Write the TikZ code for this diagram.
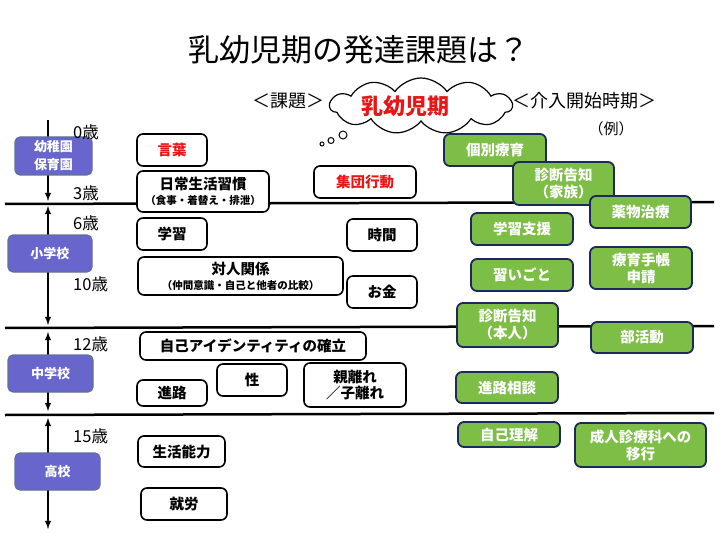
\documentclass[tikz,border=0pt]{standalone}
\usepackage{fontspec}
\setmainfont{Noto Sans CJK JP}
\usetikzlibrary{shapes.symbols}
\definecolor{schoolblue}{RGB}{104,102,204}
\definecolor{schoolline}{RGB}{96,112,150}
\definecolor{caregreen}{RGB}{125,190,70}
\definecolor{careline}{RGB}{30,40,92}
\definecolor{taskred}{RGB}{232,22,22}
\newcommand{\subline}{\fontsize{10.5}{12}\selectfont}
\begin{document}
\begin{tikzpicture}[x=1pt,y=-1pt,
	task/.style={draw=black,line width=1.6pt,rounded corners=6pt,fill=white,align=center,font=\fontsize{14.5}{16}\selectfont\bfseries,inner sep=0pt},
	redtask/.style={task,text=taskred},
	care/.style={draw=careline,line width=1.8pt,rounded corners=6pt,fill=caregreen,text=white,align=center,font=\fontsize{14.5}{17}\selectfont\bfseries,inner sep=0pt},
	school/.style={draw=schoolline,line width=1.2pt,rounded corners=5pt,fill=schoolblue,text=white,align=center,font=\fontsize{13}{18}\selectfont\bfseries,inner sep=0pt},
	age/.style={anchor=west,font=\fontsize{16.5}{16}\selectfont,inner sep=0pt}]
		\useasboundingbox (0,0) rectangle (720,540);
		% title and headings
		\node (title) at (359,50) {\fontsize{31}{31}\selectfont 乳幼児期の発達課題は？};
		\node (kadai) at (288,101) {\fontsize{18}{18}\selectfont ＜課題＞};
		\node (kainyu) at (584,101) {\fontsize{18}{18}\selectfont ＜介入開始時期＞};
		\node (rei) at (611,129) {\fontsize{15}{15}\selectfont （例）};
		\node[cloud,cloud puffs=11,cloud puff arc=110,aspect=3.3,draw,line width=1.2pt,fill=white,minimum width=182pt,minimum height=56pt] (bubble) at (421,106) {};
		\node[text=taskred,font=\fontsize{22}{22}\selectfont\bfseries] (nyuyoji) at (405,106) {乳幼児期};
		\draw[line width=1pt] (322,144) circle (2pt) (331,140.5) circle (3pt) (343,135) circle (4pt);
		% time axis
		\draw[line width=2.5pt] (5,204) -- (714,202);
		\draw[line width=2.5pt] (5,328) -- (714,326);
		\draw[line width=2.5pt] (5,415) -- (714,413);
		\coordinate (a0) at (48,120);
		\coordinate (a1) at (48,201);
		\coordinate (a2) at (48,206);
		\coordinate (a3) at (48,325);
		\coordinate (a4) at (48,332);
		\coordinate (a5) at (48,411);
		\coordinate (a6) at (48,418);
		\coordinate (a7) at (48,529);
		\draw[-latex,line width=1.8pt] (a0) -- (a1);
		\draw[latex-latex,line width=1.8pt] (a2) -- (a3);
		\draw[latex-latex,line width=1.8pt] (a4) -- (a5);
		\draw[latex-latex,line width=1.8pt] (a6) -- (a7);
		\node[school,minimum width=77pt,minimum height=38pt] (yochien) at (53.5,156) {幼稚園\\保育園};
		\node[school,minimum width=84pt,minimum height=37pt] (shogakko) at (50,253.5) {小学校};
		\node[school,minimum width=85pt,minimum height=37pt] (chugakko) at (50.5,373.5) {中学校};
		\node[school,minimum width=85pt,minimum height=37pt] (koko) at (57.5,471.5) {高校};
		\node[age] (age0) at (73,132) {0歳};
		\node[age] (age3) at (73,193) {3歳};
		\node[age] (age6) at (73,223) {6歳};
		\node[age] (age10) at (73,284) {10歳};
		\node[age] (age12) at (73,344) {12歳};
		\node[age] (age15) at (73,436) {15歳};
		% tasks
		\node[redtask,minimum width=70pt,minimum height=32pt] (kotoba) at (172,150) {言葉};
		\node[task,minimum width=132pt,minimum height=41pt] (seikatsu) at (203,191.5) {日常生活習慣\\[-1pt]{\subline（食事・着替え・排泄）}};
		\node[redtask,minimum width=102pt,minimum height=32pt] (shudan) at (365,182) {集団行動};
		\node[task,minimum width=70pt,minimum height=32pt] (gakushu) at (172,234) {学習};
		\node[task,minimum width=70pt,minimum height=32pt] (jikan) at (382,235) {時間};
		\node[task,minimum width=205pt,minimum height=38pt] (taijin) at (240.5,276) {対人関係\\[-1pt]{\subline（仲間意識・自己と他者の比較）}};
		\node[task,minimum width=70pt,minimum height=32pt] (okane) at (382,292) {お金};
		\node[task,minimum width=226pt,minimum height=28pt] (identity) at (253,346) {自己アイデンティティの確立};
		\node[task,minimum width=70pt,minimum height=26pt] (shinro) at (172,393) {進路};
		\node[task,minimum width=70pt,minimum height=32pt] (sei) at (252,380) {性};
		\node[task,minimum width=102pt,minimum height=44pt] (oyabanare) at (355,385) {親離れ\\／子離れ};
		\node[task,minimum width=87pt,minimum height=31pt] (noryoku) at (181.5,451.5) {生活能力};
		\node[task,minimum width=86pt,minimum height=32pt] (shuro) at (184,504) {就労};
		% interventions
		\node[care,minimum width=102pt,minimum height=32pt] (kobetsu) at (495,150) {個別療育};
		\node[care,minimum width=101pt,minimum height=43pt] (kokuchiK) at (563.5,183.5) {診断告知\\（家族）};
		\node[care,minimum width=101pt,minimum height=32pt] (yakubutsu) at (640.5,212) {薬物治療};
		\node[care,minimum width=102pt,minimum height=32pt] (shien) at (522,229) {学習支援};
		\node[care,minimum width=102pt,minimum height=32pt] (naraigoto) at (522,275) {習いごと};
		\node[care,minimum width=102pt,minimum height=42pt] (techo) at (641,268) {療育手帳\\申請};
		\node[care,minimum width=101pt,minimum height=44pt] (kokuchiH) at (507.5,325) {診断告知\\（本人）};
		\node[care,minimum width=102pt,minimum height=31pt] (bukatsu) at (642,337.5) {部活動};
		\node[care,minimum width=102pt,minimum height=31pt] (sodan) at (507,387.5) {進路相談};
		\node[care,minimum width=102pt,minimum height=25pt] (rikai) at (509,434.5) {自己理解};
		\node[care,minimum width=131pt,minimum height=44pt] (ikou) at (640.5,445) {成人診療科への\\移行};
	\end{tikzpicture}
\end{document}
